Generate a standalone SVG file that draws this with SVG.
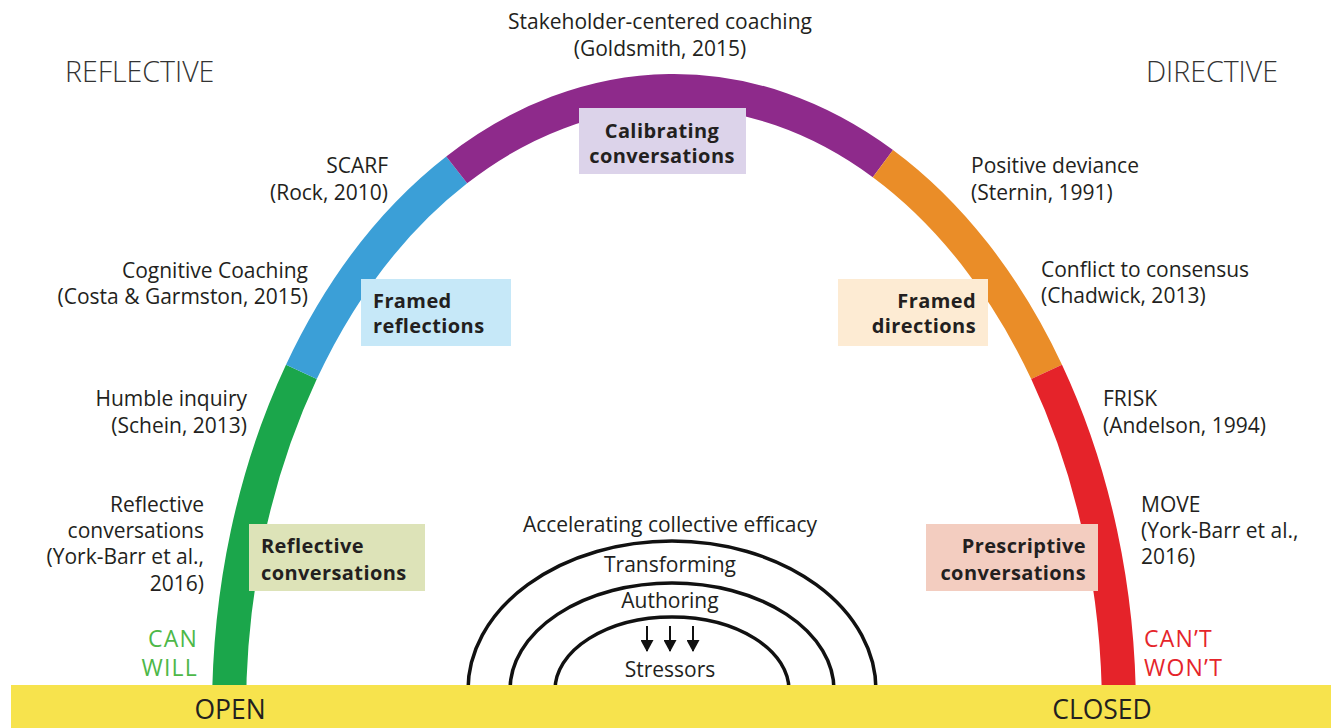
<svg xmlns="http://www.w3.org/2000/svg" width="1334" height="728" viewBox="0 0 1334 728">
  <defs>
    <style>
      text { font-family: "Open Sans", "Noto Sans", "DejaVu Sans", sans-serif; fill: #231f20; }
      .ref { font-size: 21px; }
      .ref-r { font-size: 21px; text-anchor: end; }
      .ref-m { font-size: 21px; text-anchor: middle; }
      .tag { font-size: 20px; font-weight: 700; letter-spacing: 0.4px; }
      .tag-r { font-size: 20px; font-weight: 700; letter-spacing: 0.4px; text-anchor: end; }
      .tag-m { font-size: 20px; font-weight: 700; letter-spacing: 0.4px; text-anchor: middle; }
      .pole { font-size: 28.5px; font-weight: 300; fill: #333333; }
      .end { font-size: 26.5px; text-anchor: middle; }
      .can { font-size: 23px; letter-spacing: 1.2px; fill: #4db848; text-anchor: end; }
      .cant { font-size: 23px; letter-spacing: 1.2px; fill: #e5252b; }
      .seg { fill: none; stroke-width: 34; stroke-linecap: butt; }
      .ring { fill: none; stroke: #111111; stroke-width: 3.5; }
      .down { stroke: #111111; stroke-width: 2; marker-end: url(#head); }
    </style>
    <marker id="head" viewBox="0 0 12 13" refX="11" refY="6.5" markerWidth="12" markerHeight="13" markerUnits="userSpaceOnUse" orient="auto">
      <path d="M0,0 L12,6.5 L0,13 Z" fill="#111111"/>
    </marker>
  </defs>

  <rect width="1334" height="728" fill="#ffffff"/>

  <!-- coloured arch, one elliptical segment per conversation style -->
  <g id="connectors">
    <path id="arc-reflective" class="seg" stroke="#1ba64b" d="M229,711 A445,620 0 0 1 301.4,371.9"/>
    <path id="arc-framed-reflections" class="seg" stroke="#3b9fd7" d="M301.4,371.9 A445,620 0 0 1 456.7,169.9"/>
    <path id="arc-calibrating" class="seg" stroke="#8e2a8b" d="M456.7,169.9 A445,620 0 0 1 882.9,163.6"/>
    <path id="arc-framed-directions" class="seg" stroke="#ea8d28" d="M882.9,163.6 A445,620 0 0 1 1046.6,371.9"/>
    <path id="arc-prescriptive" class="seg" stroke="#e5232a" d="M1046.6,371.9 A445,620 0 0 1 1119,711"/>

    <!-- nested efficacy rings -->
    <path class="ring" d="M468,690 A204,149 0 0 1 876,690"/>
    <path class="ring" d="M510,690 A162,107 0 0 1 834,690"/>
    <path class="ring" d="M555,690 A117,73 0 0 1 789,690"/>

    <!-- stressor arrows -->
    <line class="down" x1="647" y1="626" x2="647" y2="651"/>
    <line class="down" x1="670" y1="626" x2="670" y2="651"/>
    <line class="down" x1="693" y1="626" x2="693" y2="651"/>
  </g>

  <!-- base bar -->
  <g id="base">
    <rect x="11" y="685" width="1320" height="43" fill="#f7e34d"/>
    <text class="end" x="230" y="719">OPEN</text>
    <text class="end" x="1102" y="719">CLOSED</text>
  </g>

  <g id="pole-reflective"><text class="pole" x="65" y="82">REFLECTIVE</text></g>
  <g id="pole-directive"><text class="pole" x="1146" y="82">DIRECTIVE</text></g>

  <g id="stakeholder">
    <text class="ref-m" x="660" y="29">Stakeholder-centered coaching</text>
    <text class="ref-m" x="660" y="56">(Goldsmith, 2015)</text>
  </g>

  <g id="box-calibrating">
    <rect x="579" y="108" width="167" height="66" fill="#dcd3ea"/>
    <text class="tag-m" x="662" y="138">Calibrating</text>
    <text class="tag-m" x="662" y="163">conversations</text>
  </g>

  <g id="scarf">
    <text class="ref-r" x="388" y="173">SCARF</text>
    <text class="ref-r" x="388" y="200">(Rock, 2010)</text>
  </g>

  <g id="cognitive-coaching">
    <text class="ref-r" x="308" y="278">Cognitive Coaching</text>
    <text class="ref-r" x="308" y="304">(Costa &amp; Garmston, 2015)</text>
  </g>

  <g id="box-framed-reflections">
    <rect x="361" y="279" width="150" height="67" fill="#c6e8f8"/>
    <text class="tag" x="373" y="308">Framed</text>
    <text class="tag" x="373" y="333">reflections</text>
  </g>

  <g id="humble-inquiry">
    <text class="ref-r" x="247" y="406">Humble inquiry</text>
    <text class="ref-r" x="247" y="433">(Schein, 2013)</text>
  </g>

  <g id="reflective-conversations">
    <text class="ref-r" x="204" y="512">Reflective</text>
    <text class="ref-r" x="204" y="538">conversations</text>
    <text class="ref-r" x="204" y="564">(York-Barr et al.,</text>
    <text class="ref-r" x="204" y="591">2016)</text>
  </g>

  <g id="box-reflective">
    <rect x="249" y="524" width="176" height="67" fill="#dde3b8"/>
    <text class="tag" x="261" y="553">Reflective</text>
    <text class="tag" x="261" y="580">conversations</text>
  </g>

  <g id="can-will">
    <text class="can" x="198" y="647">CAN</text>
    <text class="can" x="198" y="676">WILL</text>
  </g>

  <g id="positive-deviance">
    <text class="ref" x="971" y="173">Positive deviance</text>
    <text class="ref" x="971" y="200">(Sternin, 1991)</text>
  </g>

  <g id="conflict-consensus">
    <text class="ref" x="1041" y="277">Conflict to consensus</text>
    <text class="ref" x="1041" y="303">(Chadwick, 2013)</text>
  </g>

  <g id="box-framed-directions">
    <rect x="838" y="279" width="150" height="67" fill="#fdebd3"/>
    <text class="tag-r" x="976" y="308">Framed</text>
    <text class="tag-r" x="976" y="333">directions</text>
  </g>

  <g id="frisk">
    <text class="ref" x="1103" y="406">FRISK</text>
    <text class="ref" x="1103" y="433">(Andelson, 1994)</text>
  </g>

  <g id="move">
    <text class="ref" x="1141" y="512">MOVE</text>
    <text class="ref" x="1141" y="538">(York-Barr et al.,</text>
    <text class="ref" x="1141" y="564">2016)</text>
  </g>

  <g id="box-prescriptive">
    <rect x="926" y="524" width="172" height="67" fill="#f3cdc0"/>
    <text class="tag-r" x="1086" y="553">Prescriptive</text>
    <text class="tag-r" x="1086" y="580">conversations</text>
  </g>

  <g id="cant-wont">
    <text class="cant" x="1144" y="647">CAN’T</text>
    <text class="cant" x="1144" y="676">WON’T</text>
  </g>

  <g id="efficacy">
    <text class="ref-m" x="670" y="532">Accelerating collective efficacy</text>
    <text class="ref-m" x="670" y="572">Transforming</text>
    <text class="ref-m" x="670" y="608">Authoring</text>
    <text class="ref-m" x="670" y="677">Stressors</text>
  </g>
</svg>
